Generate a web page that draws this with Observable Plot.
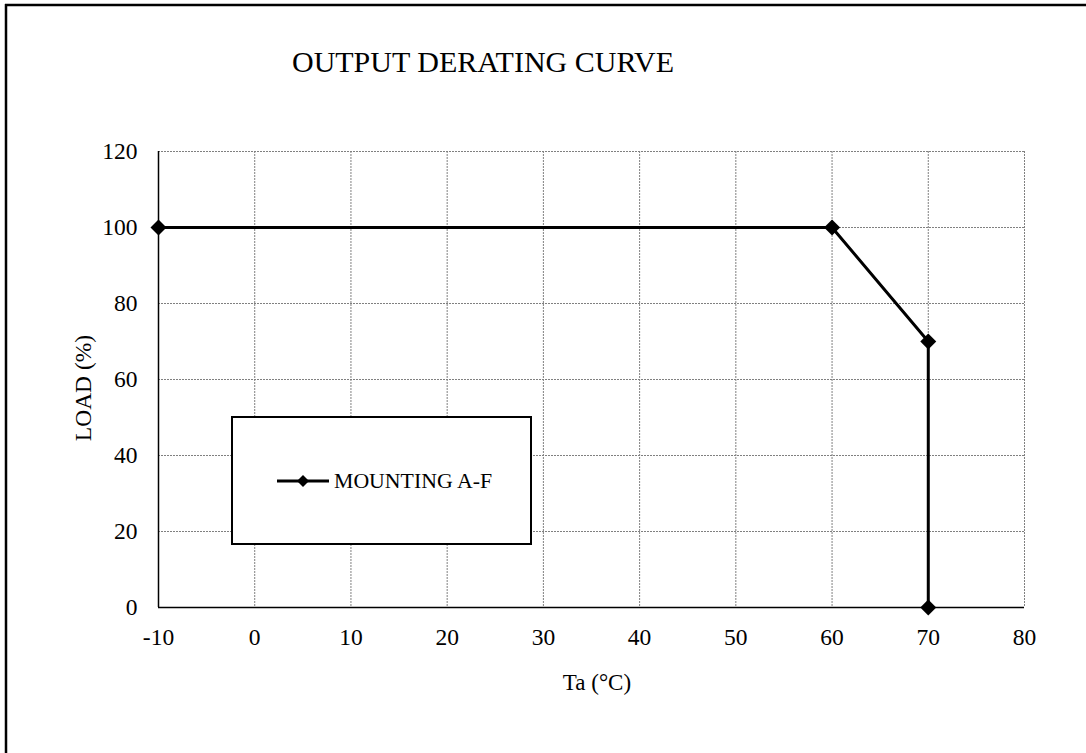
<!DOCTYPE html>
<html>
<head>
<meta charset="utf-8">
<script src="https://cdn.jsdelivr.net/npm/d3@7"></script>
<script src="https://cdn.jsdelivr.net/npm/@observablehq/plot@0.6"></script>
<style>
  html, body { margin: 0; padding: 0; background: #fff; }
  #chart svg { display: block; }
</style>
</head>
<body>
<div id="chart"></div>
<script>
// Data
const temperatures = [-10, 60, 70, 70];
const loads = [100, 100, 70, 0];
const xTicks = [-10, 0, 10, 20, 30, 40, 50, 60, 70, 80];
const yTicks = [0, 20, 40, 60, 80, 100, 120];
const seriesName = "MOUNTING A-F";
const chartTitle = "OUTPUT DERATING CURVE";
const xLabel = "Ta (°C)";
const yLabel = "LOAD (%)";

const data = temperatures.map((t, i) => ({ t, load: loads[i] }));
const FONT = "'Liberation Serif', 'Times New Roman', serif";

const W = 1086, H = 753;
const chart = Plot.plot({
  width: W,
  height: H,
  marginLeft: 158,
  marginRight: 62,
  marginTop: 151,
  marginBottom: 146,
  style: { fontFamily: FONT, fontSize: "23px", background: "#fff", color: "#000" },
  x: { domain: [-10, 80], ticks: xTicks },
  y: { domain: [0, 120], ticks: yTicks },
  marks: [
    Plot.gridX(xTicks, { stroke: "#808080", strokeOpacity: 1, strokeWidth: 1, strokeDasharray: "2,1" }),
    Plot.gridY(yTicks, { stroke: "#808080", strokeOpacity: 1, strokeWidth: 1, strokeDasharray: "2,1" }),
    Plot.ruleX([-10], { stroke: "#000", strokeWidth: 1.5 }),
    Plot.ruleY([0], { stroke: "#000", strokeWidth: 1.5 }),
    Plot.axisX(xTicks, { tickSize: 0, tickPadding: 21, fontSize: 23.5, label: null, tickFormat: d => String(d) }),
    Plot.axisY(yTicks, { tickSize: 0, tickPadding: 21, fontSize: 23.5, label: null, tickFormat: d => String(d) }),
    Plot.line(data, { x: "t", y: "load", stroke: "#000", strokeWidth: 3 }),
    Plot.dot(data, { x: "t", y: "load", symbol: "diamond2", r: 7.2, fill: "#000", stroke: "none" })
  ]
});

document.getElementById("chart").appendChild(chart);

const svg = d3.select(chart);
// Outer frame (top and left edges)
svg.append("line").attr("x1", 5).attr("x2", W).attr("y1", 5).attr("y2", 5).attr("stroke", "#000").attr("stroke-width", 2.5);
svg.append("line").attr("x1", 6).attr("x2", 6).attr("y1", 4).attr("y2", H).attr("stroke", "#000").attr("stroke-width", 2.5);

// Title
svg.append("text").attr("x", 483).attr("y", 72).attr("text-anchor", "middle")
  .attr("font-family", FONT).attr("font-size", 30).attr("fill", "#000").text(chartTitle);

// Axis titles
svg.append("text").attr("x", 597).attr("y", 690).attr("text-anchor", "middle")
  .attr("font-family", FONT).attr("font-size", 23).attr("fill", "#000").text(xLabel);
svg.append("text").attr("transform", "translate(91,388) rotate(-90)").attr("text-anchor", "middle")
  .attr("font-family", FONT).attr("font-size", 23.5).attr("fill", "#000").text(yLabel);

// Legend
const lg = svg.append("g");
lg.append("rect").attr("x", 232).attr("y", 417).attr("width", 299).attr("height", 127)
  .attr("fill", "#fff").attr("stroke", "#000").attr("stroke-width", 2);
lg.append("line").attr("x1", 277).attr("x2", 329).attr("y1", 481).attr("y2", 481)
  .attr("stroke", "#000").attr("stroke-width", 3);
lg.append("path").attr("d", "M303,475L309,481L303,487L297,481Z").attr("fill", "#000");
lg.append("text").attr("x", 334).attr("y", 488).attr("text-anchor", "start")
  .attr("font-family", FONT).attr("font-size", 21.8)
  .attr("fill", "#000").text(seriesName);
</script>
</body>
</html>
